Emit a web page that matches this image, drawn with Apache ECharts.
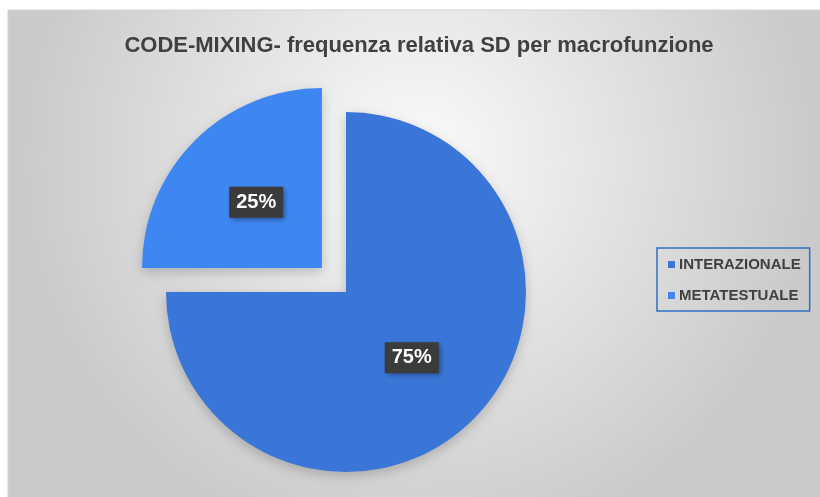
<!DOCTYPE html>
<html>
<head>
<meta charset="utf-8">
<script src="https://cdn.jsdelivr.net/npm/echarts@6/dist/echarts.min.js"></script>
<style>
    html, body { margin: 0; padding: 0; background: #ffffff; }
    #chart { width: 820px; height: 497px; }
</style>
</head>
<body>
<div id="chart"></div>
<script>
// 데이터
const categories = ["INTERAZIONALE", "METATESTUALE"];
const values = [75, 25];
const sliceColors = ["#3a76d8", "#3e87f2"];
const chartTitle = "CODE-MIXING- frequenza relativa SD per macrofunzione";

const chart = echarts.init(document.getElementById("chart"));

const pieData = categories.map(function (name, i) {
    return {
        name: name,
        value: values[i],
        selected: i === 1,
        itemStyle: { color: sliceColors[i] }
    };
});

chart.setOption({
    animation: false,
    graphic: [
        {
            type: "rect",
            z: -10,
            shape: { x: 8, y: 10, width: 820, height: 497 },
            style: {
                fill: {
                    type: "radial",
                    x: 0.5, y: 0.3, r: 0.8,
                    colorStops: [
                        { offset: 0, color: "#fbfbfb" },
                        { offset: 1, color: "#cacaca" }
                    ]
                },
                stroke: "#d3d3d3",
                lineWidth: 1
            }
        }
    ],
    title: {
        text: chartTitle,
        left: 414,
        textAlign: "center",
        top: 30,
        textStyle: {
            fontFamily: "Liberation Sans, Arial, sans-serif",
            fontSize: 22,
            fontWeight: "bold",
            color: "#404040"
        }
    },
    legend: {
        orient: "vertical",
        left: 657,
        top: 248,
        data: categories,
        icon: "rect",
        itemWidth: 7,
        itemHeight: 7,
        itemGap: 16,
        padding: [9, 9, 8, 11],
        borderColor: "#2f6fc4",
        borderWidth: 1.5,
        selectedMode: false,
        textStyle: {
            fontFamily: "Liberation Sans, Arial, sans-serif",
            fontSize: 15,
            fontWeight: "bold",
            color: "#404040",
            padding: [0, 0, 0, -1]
        }
    },
    series: [
        {
            type: "pie",
            center: [346, 292],
            radius: 180,
            startAngle: 90,
            clockwise: true,
            selectedMode: "single",
            selectedOffset: 34,
            data: pieData,
            itemStyle: {
                shadowColor: "rgba(0,0,0,0.2)",
                shadowBlur: 12,
                shadowOffsetY: 4
            },
            label: {
                show: true,
                position: "inside",
                formatter: "{d}%",
                fontFamily: "Liberation Sans, Arial, sans-serif",
                fontSize: 20,
                fontWeight: "bold",
                color: "#ffffff",
                backgroundColor: "#3b3b3b",
                padding: [6, 7, 5, 7],
                shadowColor: "rgba(0,0,0,0.4)",
                shadowBlur: 5,
                shadowOffsetX: 2,
                shadowOffsetY: 2
            },
            labelLine: { show: false },
            emphasis: { disabled: true }
        }
    ]
});

window.addEventListener("resize", function () {
    chart.resize();
});
</script>
</body>
</html>
